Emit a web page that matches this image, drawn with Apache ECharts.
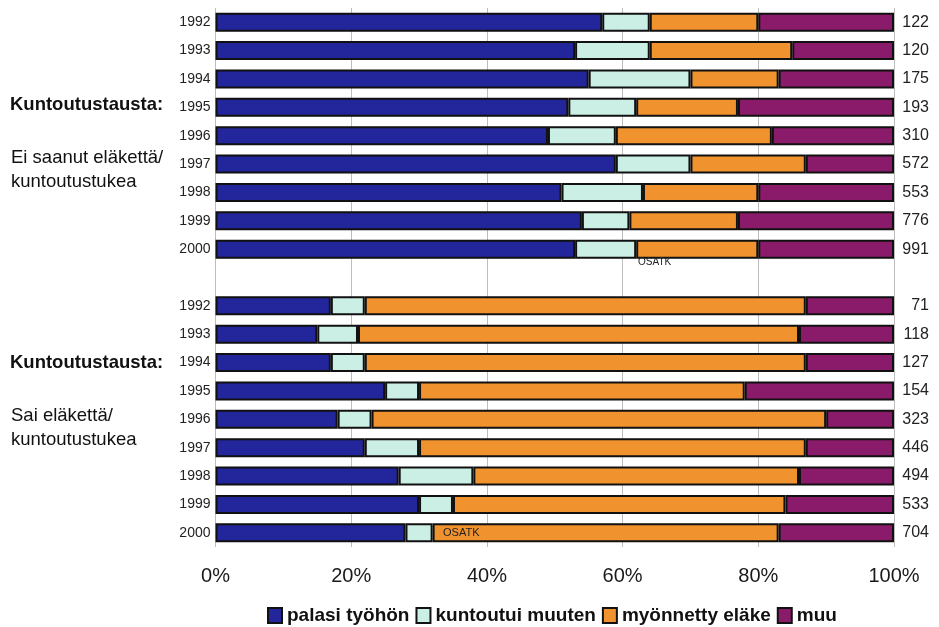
<!DOCTYPE html>
<html>
<head>
<meta charset="utf-8">
<script src="https://cdn.jsdelivr.net/npm/echarts@6/dist/echarts.min.js"></script>
<style>
html,body{margin:0;padding:0;background:#fff;}
#c{width:939px;height:627px;}
</style>
</head>
<body>
<div id="c"></div>
<script>
// ---- data ----
const years = ['1992','1993','1994','1995','1996','1997','1998','1999','2000'];
const seriesNames = ['palasi työhön','kuntoutui muuten','myönnetty eläke','muu'];
// Group 1: Ei saanut eläkettä/kuntoutustukea (percent)
const g1Palasi   = [57, 53, 55, 52, 49, 59, 51, 54, 53];
const g1Kuntoutui= [ 7, 11, 15, 10, 10, 11, 12,  7,  9];
const g1Elake    = [16, 21, 13, 15, 23, 17, 17, 16, 18];
const g1Muu      = [20, 15, 17, 23, 18, 13, 20, 23, 20];
const g1N        = [122, 120, 175, 193, 310, 572, 553, 776, 991];
// Group 2: Sai eläkettä/kuntoutustukea (percent)
const g2Palasi   = [17, 15, 17, 25, 18, 22, 27, 30, 28];
const g2Kuntoutui= [ 5,  6,  5,  5,  5,  8, 11,  5,  4];
const g2Elake    = [65, 65, 65, 48, 67, 57, 48, 49, 51];
const g2Muu      = [13, 14, 13, 22, 10, 13, 14, 16, 17];
const g2N        = [71, 118, 127, 154, 323, 446, 494, 533, 704];
const xTicks = [0, 20, 40, 60, 80, 100];

// ---- build ----
const cats = years.concat(['']).concat(years);
const counts = g1N.map(String).concat(['']).concat(g2N.map(String));
const join = (a, b) => a.concat([null]).concat(b);
const colors = ['#23259a', '#cbeee5', '#f0922e', '#8a1b6b'];
const seriesData = [
  join(g1Palasi, g2Palasi),
  join(g1Kuntoutui, g2Kuntoutui),
  join(g1Elake, g2Elake),
  join(g1Muu, g2Muu)
];

const chart = echarts.init(document.getElementById('c'), null, {renderer: 'canvas'});
const sans = 'Liberation Sans, Arial, sans-serif';
chart.setOption({
  animation: false,
  backgroundColor: '#ffffff',
  grid: {left: 215.5, right: 45, top: 8, bottom: 80, containLabel: false},
  xAxis: {
    type: 'value', min: 0, max: 100, interval: 20,
    axisLine: {show: false}, axisTick: {show: false},
    splitLine: {show: true, lineStyle: {color: '#bdbdbd', width: 1}},
    axisLabel: {
      formatter: v => xTicks.indexOf(v) >= 0 ? v + '%' : '',
      fontFamily: sans, fontSize: 20, color: '#1a1a1a', margin: 19
    }
  },
  yAxis: [
    {
      type: 'category', data: cats, inverse: true,
      axisLine: {show: false}, axisTick: {show: false},
      axisLabel: {fontFamily: sans, fontSize: 14, color: '#222', margin: 5}
    },
    {
      type: 'category', data: counts, inverse: true, position: 'right',
      axisLine: {show: false}, axisTick: {show: false},
      axisLabel: {fontFamily: sans, fontSize: 16, color: '#222', margin: 35, align: 'right'}
    }
  ],
  legend: {
    data: seriesNames, left: 262, top: 601, orient: 'horizontal',
    itemWidth: 14, itemHeight: 15, itemGap: 6,
    icon: 'rect',
    textStyle: {fontFamily: sans, fontWeight: 'bold', fontSize: 19, color: '#111'}
  },
  series: seriesNames.map((name, i) => ({
    name: name, type: 'bar', stack: 'all', data: seriesData[i],
    barWidth: 19,
    itemStyle: {color: colors[i], borderColor: '#111', borderWidth: 2},
    emphasis: {disabled: true}
  })),
  graphic: [
    {type: 'text', z: 100, left: 10, top: 95, style: {text: 'Kuntoutustausta:', font: 'bold 18.5px Liberation Sans, Arial, sans-serif', fill: '#111'}},
    {type: 'text', z: 100, left: 11, top: 146, style: {text: 'Ei saanut eläkettä/\nkuntoutustukea', font: '18.5px Liberation Sans, Arial, sans-serif', fill: '#111', lineHeight: 24}},
    {type: 'text', z: 100, left: 10, top: 353, style: {text: 'Kuntoutustausta:', font: 'bold 18.5px Liberation Sans, Arial, sans-serif', fill: '#111'}},
    {type: 'text', z: 100, left: 11, top: 404, style: {text: 'Sai eläkettä/\nkuntoutustukea', font: '18.5px Liberation Sans, Arial, sans-serif', fill: '#111', lineHeight: 24}},
    {type: 'text', z: 100, left: 638, top: 257, style: {text: 'OSATK', font: '10px Liberation Sans, Arial, sans-serif', fill: '#222'}},
    {type: 'text', z: 100, left: 443, top: 527, style: {text: 'OSATK', font: '11px Liberation Sans, Arial, sans-serif', fill: '#222'}}
  ]
});
</script>
</body>
</html>
